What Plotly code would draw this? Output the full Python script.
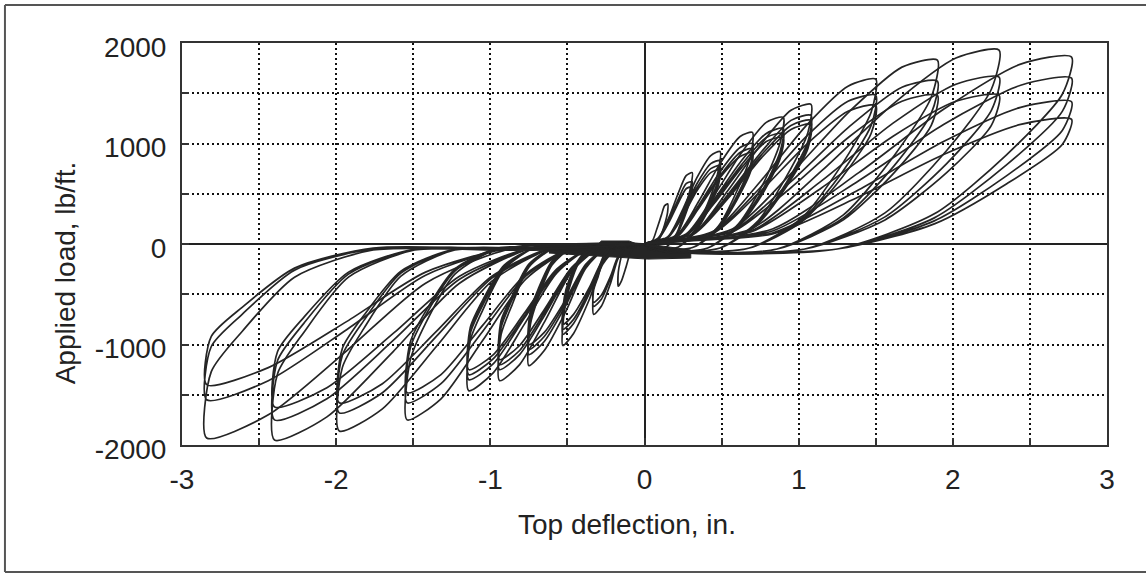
import plotly.graph_objects as go

# ---------------- data ----------------
# Positive half-cycles, grouped by displacement level (x: in., y: lb/ft)
pos0_x = [0, 0.05, 0.08, 0.11, 0.13, 0.15, 0.15, 0.13, 0.10, 0.07, 0.02]
pos0_y = [0, 30, 150, 290, 380, 400, 320, 190, 60, -30, -60]
pos1_x = [0, 0.09, 0.16, 0.22, 0.27, 0.31, 0.30, 0.26, 0.21, 0.14, 0.05,
          0, 0.09, 0.16, 0.22, 0.27, 0.31, 0.30, 0.26, 0.21, 0.14, 0.05,
          0, 0.09, 0.16, 0.22, 0.27, 0.31, 0.30, 0.26, 0.21, 0.14, 0.05]
pos1_y = [0, 60, 270, 510, 680, 710, 570, 340, 110, -30, -60,
          0, 50, 240, 450, 600, 620, 500, 300, 100, -30, -60,
          0, 50, 220, 410, 550, 570, 460, 270, 90, -30, -60]
pos2_x = [0, 0.15, 0.25, 0.34, 0.43, 0.49, 0.48, 0.42, 0.33, 0.22, 0.07,
          0, 0.15, 0.25, 0.34, 0.43, 0.49, 0.48, 0.42, 0.33, 0.22, 0.07,
          0, 0.15, 0.25, 0.34, 0.43, 0.49, 0.48, 0.42, 0.33, 0.22, 0.07,
          0, 0.15, 0.25, 0.34, 0.43, 0.49, 0.48, 0.42, 0.33, 0.22, 0.07]
pos2_y = [0, 70, 350, 660, 880, 920, 740, 440, 150, -30, -70,
          0, 70, 320, 600, 800, 830, 660, 400, 130, -30, -70,
          0, 60, 300, 560, 750, 780, 620, 370, 120, -30, -70,
          0, 60, 280, 530, 710, 740, 590, 360, 120, -30, -70]
pos3_x = [0, 0.21, 0.35, 0.49, 0.62, 0.70, 0.69, 0.60, 0.48, 0.32, 0.11,
          0, 0.21, 0.35, 0.49, 0.62, 0.70, 0.69, 0.60, 0.48, 0.32, 0.11,
          0, 0.21, 0.35, 0.49, 0.62, 0.70, 0.69, 0.60, 0.48, 0.32, 0.11,
          0, 0.21, 0.35, 0.49, 0.62, 0.70, 0.69, 0.60, 0.48, 0.32, 0.11]
pos3_y = [0, 90, 420, 800, 1070, 1110, 890, 530, 180, -30, -70,
          0, 80, 380, 720, 960, 1000, 800, 480, 160, -30, -70,
          0, 80, 360, 680, 910, 950, 760, 460, 150, -30, -70,
          0, 70, 350, 660, 870, 910, 730, 440, 150, -30, -70]
pos4_x = [0, 0.27, 0.45, 0.63, 0.79, 0.90, 0.88, 0.77, 0.61, 0.41, 0.14,
          0, 0.27, 0.45, 0.63, 0.79, 0.90, 0.88, 0.77, 0.61, 0.41, 0.14,
          0, 0.27, 0.45, 0.63, 0.79, 0.90, 0.88, 0.77, 0.61, 0.41, 0.14,
          0, 0.27, 0.45, 0.63, 0.79, 0.90, 0.88, 0.77, 0.61, 0.41, 0.14]
pos4_y = [0, 100, 480, 910, 1210, 1260, 1010, 600, 200, -40, -80,
          0, 90, 440, 830, 1100, 1150, 920, 550, 180, -40, -80,
          0, 90, 420, 790, 1060, 1100, 880, 530, 180, -40, -80,
          0, 80, 400, 760, 1020, 1060, 850, 510, 170, -40, -80]
pos5_x = [0, 0.32, 0.54, 0.76, 0.95, 1.08, 1.06, 0.92, 0.73, 0.49, 0.16,
          0, 0.32, 0.54, 0.76, 0.95, 1.08, 1.06, 0.92, 0.73, 0.49, 0.16,
          0, 0.32, 0.54, 0.76, 0.95, 1.08, 1.06, 0.92, 0.73, 0.49, 0.16,
          0, 0.32, 0.54, 0.76, 0.95, 1.08, 1.06, 0.92, 0.73, 0.49, 0.16]
pos5_y = [0, 110, 530, 1000, 1330, 1390, 1110, 670, 220, -40, -80,
          0, 100, 490, 920, 1230, 1280, 1020, 610, 200, -40, -80,
          0, 100, 470, 890, 1180, 1230, 980, 590, 200, -40, -80,
          0, 100, 450, 860, 1140, 1190, 950, 570, 190, -40, -80]
pos6_x = [0, 0.45, 0.75, 1.05, 1.32, 1.50, 1.47, 1.28, 1.02, 0.68, 0.23,
          0, 0.45, 0.75, 1.05, 1.32, 1.50, 1.47, 1.28, 1.02, 0.68, 0.23,
          0, 0.45, 0.75, 1.05, 1.32, 1.50, 1.47, 1.28, 1.02, 0.68, 0.23]
pos6_y = [0, 130, 620, 1180, 1570, 1640, 1310, 790, 260, -40, -80,
          0, 120, 560, 1070, 1420, 1480, 1180, 710, 240, -40, -80,
          0, 110, 520, 990, 1320, 1380, 1100, 660, 220, -40, -80]
pos7_x = [0, 0.57, 0.95, 1.33, 1.67, 1.90, 1.86, 1.62, 1.29, 0.86, 0.29,
          0, 0.57, 0.95, 1.33, 1.67, 1.90, 1.86, 1.62, 1.29, 0.86, 0.29,
          0, 0.57, 0.95, 1.33, 1.67, 1.90, 1.86, 1.62, 1.29, 0.86, 0.29]
pos7_y = [0, 150, 700, 1320, 1760, 1830, 1460, 880, 290, -50, -90,
          0, 130, 620, 1170, 1560, 1620, 1300, 780, 260, -50, -90,
          0, 120, 560, 1070, 1420, 1480, 1180, 710, 240, -50, -90]
pos8_x = [0, 0.69, 1.15, 1.61, 2.02, 2.30, 2.25, 1.96, 1.56, 1.04, 0.35,
          0, 0.69, 1.15, 1.61, 2.02, 2.30, 2.25, 1.96, 1.56, 1.04, 0.35,
          0, 0.69, 1.15, 1.61, 2.02, 2.30, 2.25, 1.96, 1.56, 1.04, 0.35]
pos8_y = [0, 150, 730, 1390, 1850, 1930, 1540, 930, 310, -50, -90,
          0, 130, 630, 1200, 1590, 1660, 1330, 800, 270, -50, -90,
          0, 120, 560, 1070, 1420, 1480, 1180, 710, 240, -50, -90]
pos9_x = [0, 0.83, 1.39, 1.94, 2.44, 2.77, 2.71, 2.35, 1.88, 1.25, 0.42,
          0, 0.83, 1.39, 1.94, 2.44, 2.77, 2.71, 2.35, 1.88, 1.25, 0.42,
          0, 0.83, 1.39, 1.94, 2.44, 2.77, 2.71, 2.35, 1.88, 1.25, 0.42,
          0, 0.83, 1.39, 1.94, 2.44, 2.77, 2.71, 2.35, 1.88, 1.25, 0.42]
pos9_y = [0, 150, 710, 1340, 1790, 1860, 1490, 890, 300, -50, -90,
          0, 130, 630, 1190, 1580, 1650, 1320, 790, 260, -50, -90,
          0, 110, 540, 1020, 1360, 1415, 1130, 680, 230, -50, -90,
          0, 100, 470, 890, 1190, 1240, 990, 600, 200, -50, -90]

# Negative half-cycles
neg0_x = [0, -0.05, -0.09, -0.12, -0.15, -0.17, -0.17, -0.16, -0.14, -0.11, -0.05]
neg0_y = [0, -10, -80, -230, -370, -420, -280, -190, -70, -20, -40]
neg1_x = [0, -0.10, -0.17, -0.22, -0.28, -0.33, -0.33, -0.30, -0.26, -0.20, -0.10,
          0, -0.10, -0.17, -0.22, -0.28, -0.33, -0.33, -0.30, -0.26, -0.20, -0.10,
          0, -0.10, -0.17, -0.22, -0.28, -0.33, -0.33, -0.30, -0.26, -0.20, -0.10]
neg1_y = [0, -10, -140, -390, -620, -700, -460, -320, -120, -20, -40,
          0, -10, -120, -340, -550, -620, -410, -280, -110, -20, -40,
          0, -10, -120, -320, -510, -580, -380, -260, -100, -20, -40]
neg2_x = [0, -0.16, -0.27, -0.36, -0.46, -0.53, -0.52, -0.49, -0.42, -0.33, -0.16,
          0, -0.16, -0.27, -0.36, -0.46, -0.53, -0.52, -0.49, -0.42, -0.33, -0.16,
          0, -0.16, -0.27, -0.36, -0.46, -0.53, -0.52, -0.49, -0.42, -0.33, -0.16,
          0, -0.16, -0.27, -0.36, -0.46, -0.53, -0.52, -0.49, -0.42, -0.33, -0.16]
neg2_y = [0, -20, -200, -560, -890, -1010, -670, -450, -170, -30, -50,
          0, -20, -180, -500, -790, -900, -590, -410, -150, -30, -50,
          0, -20, -170, -470, -750, -850, -560, -380, -140, -30, -50,
          0, -20, -160, -440, -700, -800, -530, -360, -140, -20, -50]
neg3_x = [0, -0.23, -0.38, -0.51, -0.65, -0.75, -0.74, -0.69, -0.60, -0.47, -0.23,
          0, -0.23, -0.38, -0.51, -0.65, -0.75, -0.74, -0.69, -0.60, -0.47, -0.23,
          0, -0.23, -0.38, -0.51, -0.65, -0.75, -0.74, -0.69, -0.60, -0.47, -0.23,
          0, -0.23, -0.38, -0.51, -0.65, -0.75, -0.74, -0.69, -0.60, -0.47, -0.23]
neg3_y = [0, -20, -240, -670, -1060, -1210, -800, -540, -210, -40, -50,
          0, -20, -220, -610, -970, -1100, -730, -500, -190, -30, -50,
          0, -20, -210, -580, -920, -1050, -690, -470, -180, -30, -50,
          0, -20, -200, -550, -880, -1000, -660, -450, -170, -30, -50]
neg4_x = [0, -0.28, -0.47, -0.64, -0.81, -0.94, -0.93, -0.86, -0.75, -0.58, -0.28,
          0, -0.28, -0.47, -0.64, -0.81, -0.94, -0.93, -0.86, -0.75, -0.58, -0.28,
          0, -0.28, -0.47, -0.64, -0.81, -0.94, -0.93, -0.86, -0.75, -0.58, -0.28,
          0, -0.28, -0.47, -0.64, -0.81, -0.94, -0.93, -0.86, -0.75, -0.58, -0.28]
neg4_y = [0, -30, -270, -750, -1200, -1360, -900, -610, -230, -40, -50,
          0, -30, -250, -690, -1100, -1250, -830, -560, -210, -40, -50,
          0, -20, -240, -660, -1060, -1200, -790, -540, -200, -40, -50,
          0, -20, -230, -630, -1010, -1150, -760, -520, -200, -30, -50]
neg5_x = [0, -0.34, -0.57, -0.78, -0.98, -1.14, -1.13, -1.05, -0.91, -0.71, -0.34,
          0, -0.34, -0.57, -0.78, -0.98, -1.14, -1.13, -1.05, -0.91, -0.71, -0.34,
          0, -0.34, -0.57, -0.78, -0.98, -1.14, -1.13, -1.05, -0.91, -0.71, -0.34,
          0, -0.34, -0.57, -0.78, -0.98, -1.14, -1.13, -1.05, -0.91, -0.71, -0.34]
neg5_y = [0, -30, -290, -800, -1280, -1460, -960, -660, -250, -40, -50,
          0, -30, -270, -740, -1190, -1350, -890, -610, -230, -40, -50,
          0, -30, -260, -720, -1140, -1300, -860, -590, -220, -40, -50,
          0, -30, -250, -690, -1100, -1250, -830, -560, -210, -40, -50]
neg6_x = [0, -0.46, -0.77, -1.05, -1.32, -1.54, -1.52, -1.42, -1.23, -0.95, -0.46,
          0, -0.46, -0.77, -1.05, -1.32, -1.54, -1.52, -1.42, -1.23, -0.95, -0.46,
          0, -0.46, -0.77, -1.05, -1.32, -1.54, -1.52, -1.42, -1.23, -0.95, -0.46]
neg6_y = [0, -40, -350, -960, -1540, -1750, -1160, -790, -300, -50, -60,
          0, -30, -320, -870, -1390, -1580, -1040, -710, -270, -50, -60,
          0, -30, -300, -810, -1300, -1480, -980, -670, -250, -40, -60]
neg7_x = [0, -0.59, -0.99, -1.35, -1.70, -1.98, -1.96, -1.82, -1.58, -1.23, -0.59,
          0, -0.59, -0.99, -1.35, -1.70, -1.98, -1.96, -1.82, -1.58, -1.23, -0.59,
          0, -0.59, -0.99, -1.35, -1.70, -1.98, -1.96, -1.82, -1.58, -1.23, -0.59]
neg7_y = [0, -40, -370, -1020, -1640, -1860, -1230, -840, -320, -60, -60,
          0, -30, -340, -920, -1480, -1680, -1110, -760, -290, -50, -60,
          0, -30, -320, -870, -1390, -1580, -1040, -710, -270, -50, -60]
neg8_x = [0, -0.72, -1.20, -1.63, -2.06, -2.40, -2.38, -2.21, -1.92, -1.49, -0.72,
          0, -0.72, -1.20, -1.63, -2.06, -2.40, -2.38, -2.21, -1.92, -1.49, -0.72,
          0, -0.72, -1.20, -1.63, -2.06, -2.40, -2.38, -2.21, -1.92, -1.49, -0.72]
neg8_y = [0, -40, -390, -1070, -1720, -1950, -1290, -880, -330, -60, -60,
          0, -40, -350, -960, -1540, -1750, -1160, -790, -300, -50, -60,
          0, -30, -320, -890, -1430, -1620, -1070, -730, -280, -50, -60]
neg9_x = [0, -0.85, -1.42, -1.93, -2.44, -2.84, -2.81, -2.61, -2.27, -1.76, -0.85,
          0, -0.85, -1.42, -1.93, -2.44, -2.84, -2.81, -2.61, -2.27, -1.76, -0.85,
          0, -0.85, -1.42, -1.93, -2.44, -2.84, -2.81, -2.61, -2.27, -1.76, -0.85]
neg9_y = [0, -40, -390, -1060, -1700, -1930, -1270, -870, -330, -60, -60,
          0, -30, -310, -850, -1360, -1550, -1020, -700, -260, -50, -60,
          0, -30, -280, -770, -1230, -1400, -920, -630, -240, -40, -60]

# dark slip band near the origin (outline)
slip_x = [-0.62, -0.30, -0.28, -0.10, -0.05, 0.02, 0.30, 0.30, 0.02, -0.62]
slip_y = [0, 0, 30, 30, 0, 0, -60, -140, -150, -90]

x_ticks = [-3, -2.5, -2, -1.5, -1, -0.5, 0, 0.5, 1, 1.5, 2, 2.5, 3]
x_labels = ["-3", "", "-2", "", "-1", "", "0", "", "1", "", "2", "", "3"]
y_ticks = [-2000, -1500, -1000, -500, 0, 500, 1000, 1500, 2000]
y_labels = ["-2000", "", "-1000", "", "0", "", "1000", "", "2000"]

x_title = "Top deflection, in."
y_title = "Applied load, lb/ft."

# ---------------- figure ----------------
LINE = "#252525"
FONT = "Liberation Sans, Arial, sans-serif"

fig = go.Figure()
fig.add_trace(go.Scatter(x=slip_x, y=slip_y, mode="lines", fill="toself",
                         fillcolor=LINE, line=dict(color=LINE, width=1),
                         hoverinfo="skip", showlegend=False))
series = [(pos0_x, pos0_y), (pos1_x, pos1_y), (pos2_x, pos2_y), (pos3_x, pos3_y),
          (pos4_x, pos4_y), (pos5_x, pos5_y), (pos6_x, pos6_y), (pos7_x, pos7_y),
          (pos8_x, pos8_y), (pos9_x, pos9_y),
          (neg0_x, neg0_y), (neg1_x, neg1_y), (neg2_x, neg2_y), (neg3_x, neg3_y),
          (neg4_x, neg4_y), (neg5_x, neg5_y), (neg6_x, neg6_y), (neg7_x, neg7_y),
          (neg8_x, neg8_y), (neg9_x, neg9_y)]
for sx, sy in series:
    fig.add_trace(go.Scatter(x=sx, y=sy, mode="lines",
                             line=dict(color=LINE, width=1.7, shape="spline", smoothing=0.7),
                             hoverinfo="skip", showlegend=False))

axis_common = dict(
    showgrid=True, gridcolor="#111", gridwidth=1.8, griddash="2px,3px",
    zeroline=True, zerolinecolor="#222", zerolinewidth=2,
    showline=True, mirror=True, linecolor="#333", linewidth=2,
    ticks="inside", ticklen=7, tickcolor="#333", tickwidth=1.5,
    tickfont=dict(family=FONT, size=28, color="#222"),
    tickmode="array", fixedrange=True,
)
fig.update_xaxes(range=[-3, 3], tickvals=x_ticks, ticktext=x_labels,
                 ticklabelstandoff=8, **axis_common)
fig.update_yaxes(range=[-2000, 2000], tickvals=y_ticks, ticktext=y_labels,
                 ticklabelstandoff=8, ticklabelshift=4, **axis_common)

frame = dict(color="#555", width=2)
fig.update_layout(
    width=1146, height=574,
    margin=dict(l=182, r=39, t=43, b=129),
    paper_bgcolor="white", plot_bgcolor="white",
    showlegend=False,
    annotations=[
        dict(text=x_title, xref="paper", yref="paper", x=0.481, y=-0.155,
             xanchor="center", yanchor="top", showarrow=False,
             font=dict(family=FONT, size=28, color="#222")),
        dict(text=y_title, xref="paper", yref="paper", x=-0.125, y=0.428,
             xanchor="center", yanchor="middle", showarrow=False, textangle=-90,
             font=dict(family=FONT, size=28, color="#222")),
    ],
    shapes=[
        dict(type="line", xref="paper", yref="paper", x0=-0.1914, x1=1.25,
             y0=1.0945, y1=1.0945, line=frame),
        dict(type="line", xref="paper", yref="paper", x0=-0.1914, x1=1.25,
             y0=-0.316, y1=-0.316, line=frame),
        dict(type="line", xref="paper", yref="paper", x0=-0.1914, x1=-0.1914,
             y0=-0.316, y1=1.0945, line=frame),
    ],
)

fig.write_html("out.html", config={"displayModeBar": False},
               post_script="document.body.style.margin='0';document.body.style.overflow='hidden';")
